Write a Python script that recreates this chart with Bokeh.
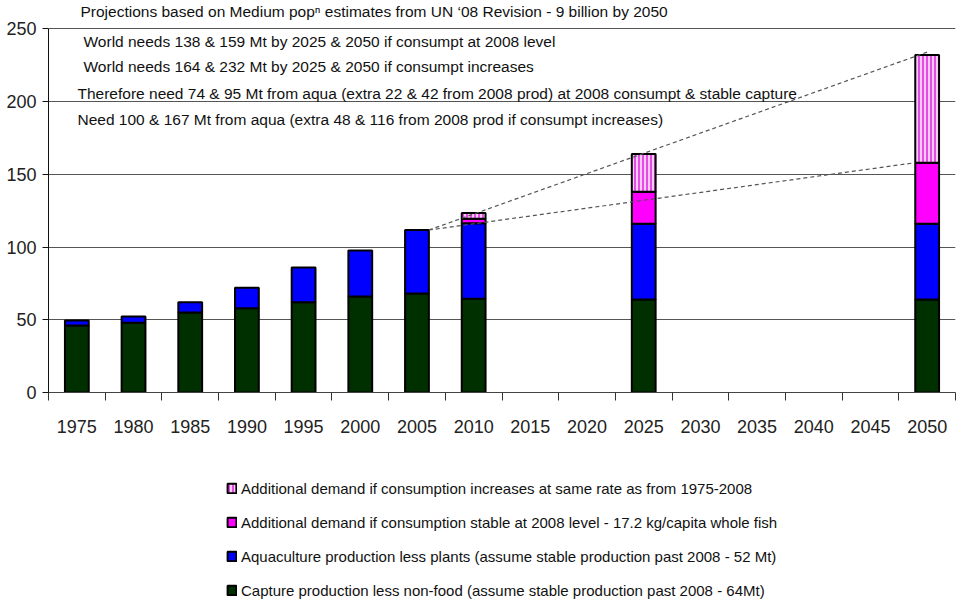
from bokeh.plotting import figure
from bokeh.layouts import column
from bokeh.models import (ColumnDataSource, Range1d, LinearAxis,
                          FixedTicker, Label, Legend, LegendItem)
from bokeh.transform import stack
from bokeh.embed import file_html
from bokeh.resources import INLINE

nan = float("nan")

# ---------------- data ----------------
years = ["1975", "1980", "1985", "1990", "1995", "2000", "2005", "2010",
         "2015", "2020", "2025", "2030", "2035", "2040", "2045", "2050"]
capture = [46, 48, 55, 58, 62, 66, 68, 64.4, nan, nan, 64, nan, nan, nan, nan, 64]
aquaculture = [3.5, 4.3, 7, 14, 24, 31.7, 43.7, 52, nan, nan, 52, nan, nan, nan, nan, 52]
extra_stable = [nan, nan, nan, nan, nan, nan, nan, 3, nan, nan, 22, nan, nan, nan, nan, 42]
extra_increase = [nan, nan, nan, nan, nan, nan, nan, 4, nan, nan, 26, nan, nan, nan, nan, 74]
y_ticks = [0, 50, 100, 150, 200, 250]

notes = [
    "Projections based on Medium pop\u207f estimates from UN \u201808 Revision - 9 billion by 2050",
    "World needs 138 & 159 Mt by 2025 & 2050 if consumpt at 2008 level",
    "World needs 164 & 232 Mt by 2025 & 2050 if consumpt increases",
    "Therefore need 74 & 95 Mt from aqua (extra 22 & 42 from 2008 prod) at 2008 consumpt & stable capture",
    "Need 100 & 167 Mt from aqua (extra 48 & 116 from 2008 prod if consumpt increases)",
]
# legend entries, top to bottom (top = highest stacked layer)
legend_labels = [
    "Additional demand if consumption increases at same rate as from 1975-2008",
    "Additional demand if consumption stable at 2008 level - 17.2 kg/capita whole fish",
    "Aquaculture production less plants (assume stable production past 2008 - 52 Mt)",
    "Capture production less non-food (assume stable production past 2008 - 64Mt)",
]

# ---------------- styling ----------------
FONT = "Liberation Sans"
C_CAP = "#003000"
C_AQUA = "#0000FF"
C_MAG = "#FF00FF"
C_STRIPE_BG = "#F6CCF6"
C_STRIPE = "#E020E0"
W = 0.42

# category slot i is centred at i + 0.5 on the linear x scale
xpos = [i + 0.5 for i in range(len(years))]
src = ColumnDataSource(dict(x=xpos, year=years, cap=capture, aqua=aquaculture,
                            stable=extra_stable, incr=extra_increase))

# bottom-to-top layers
layers = [
    dict(bottom=0, top=stack("cap"), fill_color=C_CAP),
    dict(bottom=stack("cap"), top=stack("cap", "aqua"), fill_color=C_AQUA),
    dict(bottom=stack("cap", "aqua"), top=stack("cap", "aqua", "stable"), fill_color=C_MAG),
    dict(bottom=stack("cap", "aqua", "stable"), top=stack("cap", "aqua", "stable", "incr"),
         fill_color=C_STRIPE_BG, hatch_pattern="|", hatch_color=C_STRIPE,
         hatch_scale=4, hatch_weight=1.5),
]


def draw_bars(fig, **extra):
    return [fig.vbar(x="x", width=W, source=src, line_color="black", line_width=2,
                     **layer, **extra) for layer in layers]


# ---------------- main chart ----------------
p = figure(width=958, height=450, x_range=Range1d(0, len(years)),
           y_range=Range1d(0, 269.5), output_backend="svg",
           toolbar_location=None, x_axis_location=None,
           min_border_left=48, min_border_right=3, min_border_top=0,
           min_border_bottom=58)
p.outline_line_color = None
p.background_fill_color = "white"
p.border_fill_color = "white"

p.yaxis.ticker = FixedTicker(ticks=y_ticks)
p.yaxis.bounds = (0, 250)
p.yaxis.axis_line_color = "#111111"
p.yaxis.major_tick_out = 6
p.yaxis.major_tick_in = 0
p.yaxis.major_tick_line_color = "#111111"
p.yaxis.minor_tick_line_color = None
p.yaxis.major_label_text_font = FONT
p.yaxis.major_label_text_font_size = "18px"
p.yaxis.major_label_text_color = "#222222"
p.yaxis.major_label_standoff = 6

p.ygrid.ticker = FixedTicker(ticks=y_ticks)
p.ygrid.grid_line_color = "#555555"
p.ygrid.grid_line_width = 1
p.xgrid.grid_line_color = None

# x axis: labels at centres, ticks at category boundaries
xaxis = LinearAxis(ticker=FixedTicker(ticks=xpos, minor_ticks=list(range(len(years) + 1))),
                   major_label_overrides={c: y for c, y in zip(xpos, years)})
xaxis.major_tick_line_color = None
xaxis.major_tick_out = 0
xaxis.major_tick_in = 0
xaxis.minor_tick_out = 8
xaxis.minor_tick_in = 0
xaxis.minor_tick_line_color = "#333333"
xaxis.axis_line_color = "#444444"
xaxis.major_label_text_font = FONT
xaxis.major_label_text_font_size = "18px"
xaxis.major_label_text_color = "#222222"
xaxis.major_label_standoff = 19
p.add_layout(xaxis, "below")

bars = draw_bars(p)

# dashed projection lines from the 2005 bar
i05 = years.index("2005")
i50 = years.index("2050")
top05 = capture[i05] + aquaculture[i05]
top50 = capture[i50] + aquaculture[i50] + extra_stable[i50] + extra_increase[i50]
mid50 = capture[i50] + aquaculture[i50] + extra_stable[i50]
seg_src = ColumnDataSource(dict(
    x0=[xpos[i05] + W / 2, xpos[i05] + W / 2],
    y0=[top05, top05],
    x1=[xpos[i50], xpos[i50] - W / 2],
    y1=[top50 + 2, mid50]))
p.segment(x0="x0", y0="y0", x1="x1", y1="y1", source=seg_src,
          line_color="#555555", line_dash="4 3", line_width=1.2)

# notes at top (screen units relative to the frame)
note_x = [80, 83, 83, 77, 77]
note_y = [11, 41, 66, 93, 119]
for t, nx, ny in zip(notes, note_x, note_y):
    p.add_layout(Label(x=nx - 48, y=392 - ny, x_units="screen", y_units="screen",
                       text=t, text_font=FONT, text_font_size="15.5px",
                       text_color="#111111", text_baseline="middle"))

# ---------------- legend panel (frame aligned with the chart frame) ----------------
lg = figure(width=958, height=152, x_range=Range1d(0, 1), y_range=Range1d(0, 1),
            output_backend="svg", toolbar_location=None,
            x_axis_location=None, y_axis_location=None,
            min_border_left=0, min_border_right=0, min_border_top=0, min_border_bottom=0)
lg.outline_line_color = None
lg.xgrid.visible = False
lg.ygrid.visible = False
lg_bars = draw_bars(lg, visible=False)

legend = Legend(items=[LegendItem(label=legend_labels[k], renderers=[lg_bars[3 - k]])
                       for k in range(4)],
                location=(178, 2))
legend.border_line_color = None
legend.background_fill_alpha = 0
legend.inactive_fill_alpha = 0
legend.padding = 0
legend.margin = 0
legend.glyph_width = 11
legend.glyph_height = 12
legend.label_height = 20
legend.spacing = 14
legend.label_standoff = 4
legend.label_text_font = FONT
legend.label_text_font_size = "15px"
legend.label_text_color = "#111111"
lg.add_layout(legend, "center")

layout = column(p, lg, spacing=0)
open("out.html", "w").write(file_html(layout, INLINE))
